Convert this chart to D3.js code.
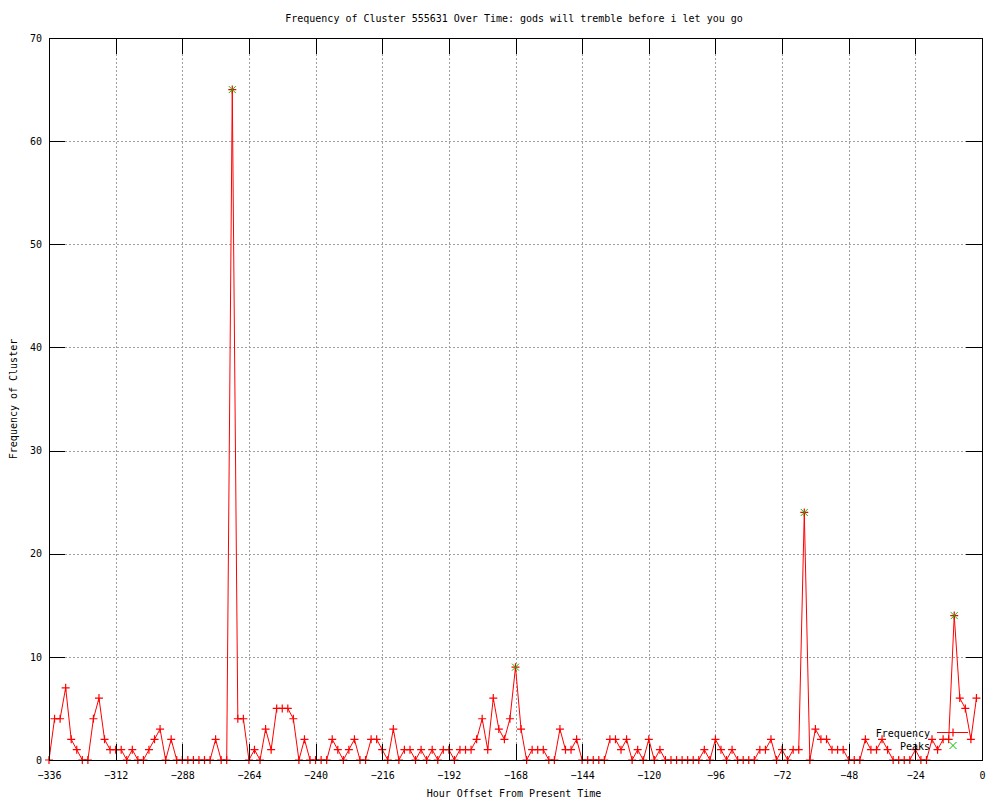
<!DOCTYPE html>
<html>
<head>
<meta charset="utf-8">
<script src="https://cdn.jsdelivr.net/npm/d3@7/dist/d3.min.js"></script>
<style>
  body { margin: 0; background: #fff; }
  svg text { font-family: "DejaVu Sans Mono", monospace; font-size: 10px; fill: #000; }
  .grid line { stroke: #a0a0a0; stroke-dasharray: 2,2; }
</style>
</head>
<body>
<svg id="chart" width="1000" height="800"></svg>
<script>
// frequency per 2-hour bucket, hours -336 .. -2
var startHour = -336, stepHours = 2
var freq = [0,4,4,7,2,1,0,0,4,6, 2,1,1,1,0,1,0,0,1,2,
  3,0,2,0,0,0,0,0,0,0, 2,0,0,65,4,4,0,1,0,3,
  1,5,5,5,4,0,2,0,0,0, 0,2,1,0,1,2,0,0,2,2,
  1,0,3,0,1,1,0,1,0,1, 0,1,1,0,1,1,1,2,4,1,
  6,3,2,4,9,3,0,1,1,1, 0,0,3,1,1,2,0,0,0,0,
  0,2,2,1,2,0,1,0,2,0, 1,0,0,0,0,0,0,0,1,0,
  2,1,0,1,0,0,0,0,1,1, 2,0,1,0,1,1,24,0,3,2,
  2,1,1,1,0,0,0,2,1,1, 2,1,0,0,0,0,1,0,0,2,
  1,2,2,14,6,5,2,6]
var peakHours = [-270, -168, -64, -10]
var peakValues = [65, 9, 24, 14]
var xTicks = d3.range(-336, 1, 24)
var yTicks = d3.range(0, 71, 10)

// plot box (note: 'top' is a reserved window prop, so prefix everything)
var pLeft = 49, pRight = 982, pTop = 38, pBottom = 760
var svg = d3.select('#chart')
svg.append('rect').attr('width', 1000).attr('height', 800).attr('fill', '#fff')

var x = d3.scaleLinear().domain([-336, 0]).range([pLeft, pRight])
var y = d3.scaleLinear().domain([0, 70]).range([pBottom, pTop])

var pts = freq.map(function(v, i) { return [startHour + i*stepHours, v] })

// grid
var grid = svg.append('g').attr('class', 'grid').attr('shape-rendering', 'crispEdges')
grid.selectAll('line.gx').data(xTicks.slice(1, -1)).join('line').attr('class', 'gx')
  .attr('x1', function(d) { return Math.round(x(d)) + 0.5 }).attr('x2', function(d) { return Math.round(x(d)) + 0.5 })
  .attr('y1', pTop).attr('y2', pBottom)
grid.selectAll('line.gy').data(yTicks.slice(1, -1)).join('line').attr('class', 'gy')
  .attr('x1', pLeft).attr('x2', pRight)
  .attr('y1', function(d) { return Math.round(y(d)) + 0.5 }).attr('y2', function(d) { return Math.round(y(d)) + 0.5 })

// frequency line + markers
var line = d3.line().x(function(d) { return x(d[0]) }).y(function(d) { return y(d[1]) })
svg.append('path').datum(pts).attr('d', line)
  .attr('fill', 'none').attr('stroke', '#ff0000').attr('stroke-width', 1)

function plus(g, cx, cy, col) {
  g.append('path').attr('d', 'M' + (cx-4) + ',' + cy + 'H' + (cx+4) + 'M' + cx + ',' + (cy-4) + 'V' + (cy+4))
    .attr('stroke', col).attr('stroke-width', 1.2).attr('fill', 'none')
}
function cross(g, cx, cy, col) {
  g.append('path').attr('d', 'M' + (cx-3.5) + ',' + (cy-3.5) + 'L' + (cx+3.5) + ',' + (cy+3.5) + 'M' + (cx-3.5) + ',' + (cy+3.5) + 'L' + (cx+3.5) + ',' + (cy-3.5))
    .attr('stroke', col).attr('stroke-width', 1).attr('fill', 'none')
}
var mk = svg.append('g')
pts.forEach(function(p) { plus(mk, x(p[0]), y(p[1]), '#ff0000') })
peakHours.forEach(function(h, i) { cross(mk, x(h), y(peakValues[i]), '#00c000') })

// axes with inward, mirrored ticks
var ax = svg.append('g').attr('shape-rendering', 'crispEdges')
ax.append('g').attr('transform', 'translate(0,' + pBottom + ')')
  .call(d3.axisBottom(x).tickValues(xTicks).tickSizeInner(-16).tickSizeOuter(0).tickPadding(12))
ax.append('g').attr('transform', 'translate(0,' + pTop + ')')
  .call(d3.axisTop(x).tickValues(xTicks).tickSizeInner(-16).tickSizeOuter(0).tickFormat(''))
ax.append('g').attr('transform', 'translate(' + pLeft + ',0)')
  .call(d3.axisLeft(y).tickValues(yTicks).tickSizeInner(-16).tickSizeOuter(0).tickPadding(7))
ax.append('g').attr('transform', 'translate(' + pRight + ',0)')
  .call(d3.axisRight(y).tickValues(yTicks).tickSizeInner(-16).tickSizeOuter(0).tickFormat(''))
ax.selectAll('.domain').remove()
ax.selectAll('.tick line').attr('stroke', '#000')
ax.selectAll('text').attr('font-family', null).attr('font-size', null).attr('fill', null)
ax.append('rect').attr('x', pLeft).attr('y', pTop).attr('width', pRight-pLeft).attr('height', pBottom-pTop)
  .attr('fill', 'none').attr('stroke', '#000')

// titles
svg.append('text').attr('x', 514).attr('y', 22).attr('text-anchor', 'middle')
  .text('Frequency of Cluster 555631 Over Time: gods will tremble before i let you go')
svg.append('text').attr('x', 514).attr('y', 797).attr('text-anchor', 'middle')
  .text('Hour Offset From Present Time')
svg.append('text').attr('transform', 'translate(17,399) rotate(-90)').attr('text-anchor', 'middle')
  .text('Frequency of Cluster')

// legend
svg.append('text').attr('x', 930).attr('y', 736.5).attr('text-anchor', 'end').text('Frequency')
svg.append('line').attr('x1', 937).attr('x2', 968).attr('y1', 732.5).attr('y2', 732.5)
  .attr('stroke', '#ff0000')
plus(svg, 953, 732.5, '#ff0000')
svg.append('text').attr('x', 930).attr('y', 749.5).attr('text-anchor', 'end').text('Peaks')
cross(svg, 953, 745.5, '#00c000')
</script>
</body>
</html>
